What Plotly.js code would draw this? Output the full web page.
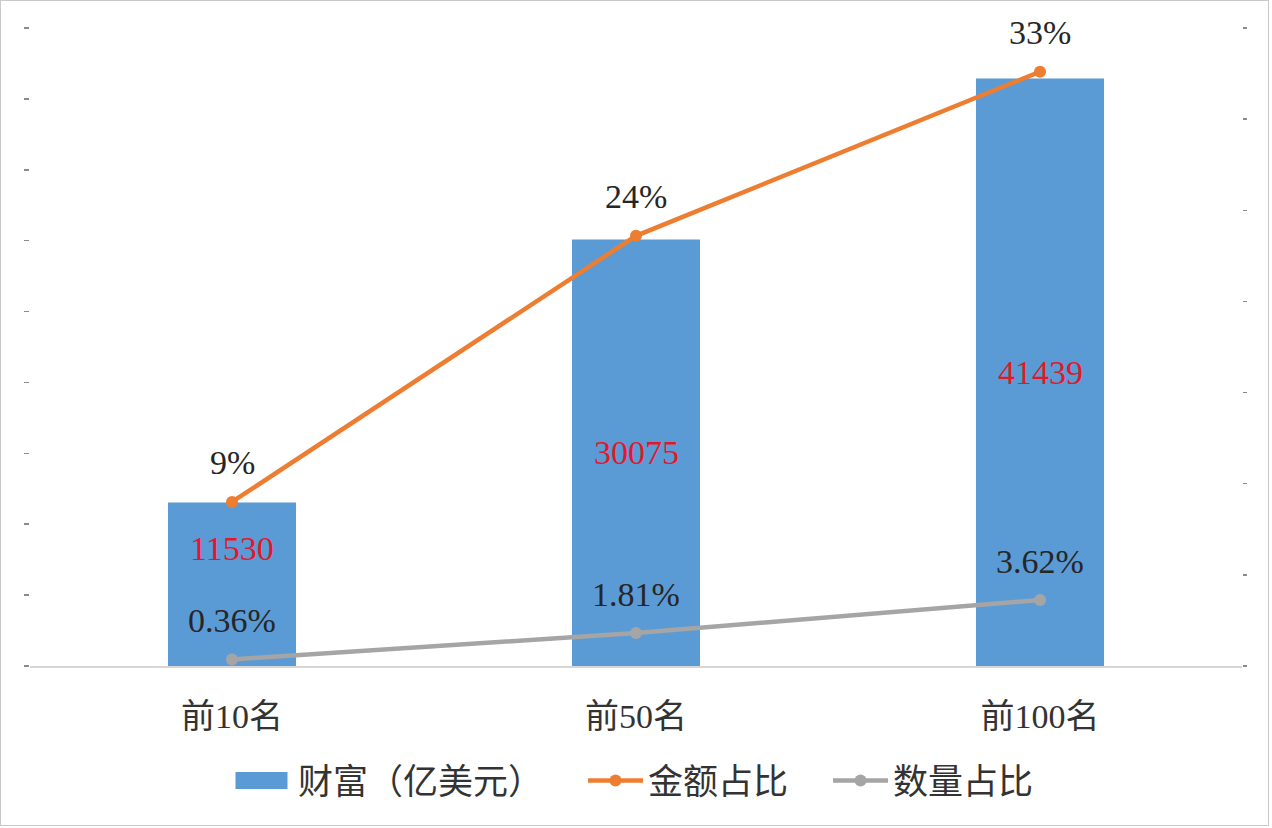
<!DOCTYPE html>
<html>
<head>
<meta charset="utf-8">
<script src="https://cdn.plot.ly/plotly-3.0.1.min.js"></script>
<style>
  html, body { margin: 0; padding: 0; background: #ffffff; }
  #chart { width: 1272px; height: 828px; position: absolute; left: 0; top: 0; }
  #frame { position: absolute; left: 0; top: 0; width: 1269px; height: 826px;
           border: 1.5px solid #c9c9c9; box-sizing: border-box; pointer-events: none; }
</style>
</head>
<body>
<div id="chart"></div>
<div id="frame"></div>
<script>
// ---- data ----
const categories = ['前10名', '前50名', '前100名'];
const wealth = [11530, 30075, 41439];              // 财富（亿美元）
const amountShare = [0.090, 0.236, 0.326];          // 金额占比
const amountShareLabels = ['9%', '24%', '33%'];
const countShare = [0.0036, 0.0181, 0.0362];        // 数量占比
const countShareLabels = ['0.36%', '1.81%', '3.62%'];
const seriesNames = ['财富（亿美元）', '金额占比', '数量占比'];

const FONT = "'Liberation Serif', 'Noto Sans CJK SC', serif";
const barColor = '#5b9bd5';
const orange = '#ed7d31';
const grey = '#a5a5a5';
const PAD = '\u00a0\u00a0\u00a0\u00a0';

const traces = [
  {
    type: 'bar', name: seriesNames[0] + PAD, x: categories, y: wealth,
    marker: { color: barColor }, yaxis: 'y', hoverinfo: 'skip'
  },
  {
    type: 'scatter', mode: 'lines+markers', name: seriesNames[1] + PAD, x: categories, y: amountShare,
    yaxis: 'y2', line: { color: orange, width: 4.5 }, marker: { color: orange, size: 12 },
    hoverinfo: 'skip'
  },
  {
    type: 'scatter', mode: 'lines+markers', name: seriesNames[2], x: categories, y: countShare,
    yaxis: 'y2', line: { color: grey, width: 4.5 }, marker: { color: grey, size: 12 },
    hoverinfo: 'skip'
  }
];

const annotations = [];
const barLabelShift = [36, 0, 0];
categories.forEach((c, i) => {
  annotations.push({
    x: c, y: wealth[i] / 2, xref: 'x', yref: 'y', text: String(wealth[i]),
    showarrow: false, yshift: barLabelShift[i],
    font: { family: FONT, size: 34, color: '#e3172b' }
  });
  annotations.push({
    x: c, y: amountShare[i], xref: 'x', yref: 'y2', text: amountShareLabels[i],
    showarrow: false, yshift: 39,
    font: { family: FONT, size: 34, color: '#262626' }
  });
  annotations.push({
    x: c, y: countShare[i], xref: 'x', yref: 'y2', text: countShareLabels[i],
    showarrow: false, yshift: 39,
    font: { family: FONT, size: 34, color: '#262626' }
  });
});

const layout = {
  width: 1272, height: 828,
  margin: { l: 30, r: 30, t: 28, b: 162 },
  paper_bgcolor: '#ffffff', plot_bgcolor: '#ffffff',
  font: { family: FONT, size: 30, color: '#333333' },
  bargap: 0.683,
  showlegend: true,
  legend: {
    orientation: 'h', x: 0.5, xanchor: 'center', y: -0.18, yanchor: 'middle',
    font: { family: FONT, size: 35, color: '#333333' },
    itemwidth: 55, traceorder: 'normal', itemclick: false
  },
  xaxis: {
    type: 'category', showgrid: false, zeroline: false,
    showline: true, linecolor: '#d6d6d6', linewidth: 1.5,
    ticks: '', tickfont: { family: FONT, size: 34, color: '#333333' },
    ticklabelstandoff: 20, fixedrange: true
  },
  yaxis: {
    range: [0, 45000], dtick: 5000, tick0: 0, showgrid: false, zeroline: false,
    showline: false, showticklabels: false, ticks: 'outside', ticklen: 5,
    tickwidth: 1.5, tickcolor: '#8a8a8a', fixedrange: true
  },
  yaxis2: {
    overlaying: 'y', side: 'right', range: [0, 0.35], dtick: 0.05, tick0: 0,
    showgrid: false, zeroline: false, showline: false, showticklabels: false,
    ticks: 'outside', ticklen: 4, tickwidth: 1.5, tickcolor: '#8a8a8a', fixedrange: true
  },
  annotations: annotations
};

Plotly.newPlot('chart', traces, layout, { displayModeBar: false, staticPlot: true }).then(gd => {
  // widen legend symbols to look like the original legend keys
  const items = gd.querySelectorAll('.legend .traces');
  items.forEach((it, idx) => {
    if (idx === 0) {
      const p = it.querySelector('.legendpoints path');
      if (p) p.setAttribute('d', 'M-30,-8.5h52v17h-52z');
    } else {
      const l = it.querySelector('.legendlines path');
      if (l) l.setAttribute('d', 'M5,0h55');
      const m = it.querySelector('.legendsymbols path');
      if (m) m.setAttribute('transform', 'translate(32.5,0)');
    }
  });
});
</script>
</body>
</html>
